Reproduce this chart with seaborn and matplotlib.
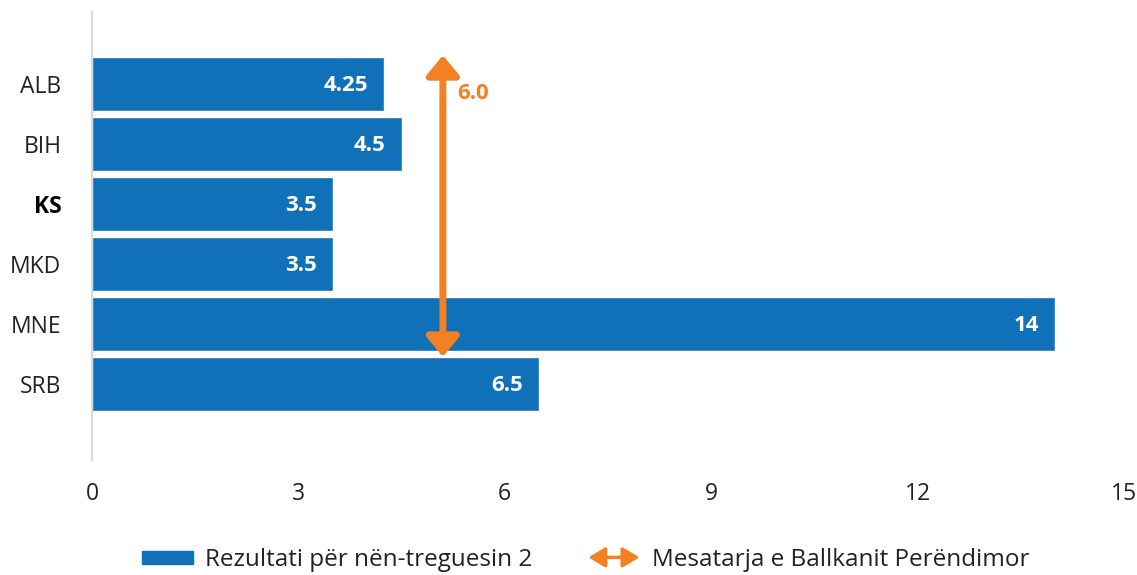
import matplotlib
matplotlib.use("Agg")
import matplotlib.pyplot as plt
import seaborn as sns
import pandas as pd
from matplotlib.patches import FancyArrowPatch
from matplotlib.legend_handler import HandlerPatch
from matplotlib.patches import Patch

categories = ["ALB", "BIH", "KS", "MKD", "MNE", "SRB"]
values = [4.25, 4.5, 3.5, 3.5, 14, 6.5]
value_labels = ["4.25", "4.5", "3.5", "3.5", "14", "6.5"]
x_ticks = [0, 3, 6, 9, 12, 15]
avg_label = "6.0"
avg_arrow_x = 5.1
series_name = "Rezultati për nën-treguesin 2"
avg_name = "Mesatarja e Ballkanit Perëndimor"

BLUE = "#1070B8"
ORANGE = "#F28123"

sns.set_theme(style="white")
plt.rcParams["font.family"] = ["Open Sans", "DejaVu Sans"]

df = pd.DataFrame({"cat": categories, "val": values})

fig = plt.figure(figsize=(11.37, 5.75), dpi=100)
ax = fig.add_axes([0.0809, 0.2, 0.9077, 0.779])

sns.barplot(data=df, x="val", y="cat", orient="h", color=BLUE, saturation=1,
            width=0.9, ax=ax)

ax.set_xlim(0, 15)
ax.set_ylim(6.27, -1.2)
ax.set_xticks(x_ticks)
ax.set_xticklabels([str(t) for t in x_ticks])
ax.set_xlabel("")
ax.set_ylabel("")
ax.tick_params(axis="x", labelsize=16.5, length=0, pad=16, colors="#222222")
ax.tick_params(axis="y", labelsize=16.5, length=0, pad=22, colors="#222222")
for lab in ax.get_yticklabels():
    if lab.get_text() == "KS":
        lab.set_fontweight("bold")
        lab.set_color("#000000")

for s in ["top", "right", "bottom"]:
    ax.spines[s].set_visible(False)
ax.spines["left"].set_color("#d9d9d9")
ax.spines["left"].set_linewidth(1.5)

for i, (v, lab) in enumerate(zip(values, value_labels)):
    ax.text(v - 0.23, i + 0.02, lab, ha="right", va="center", color="white",
            fontsize=16, fontweight="bold")

arrow = FancyArrowPatch((avg_arrow_x, -0.48), (avg_arrow_x, 4.55),
                        arrowstyle="<|-|>,head_length=0.85,head_width=0.7",
                        mutation_scale=14, color=ORANGE, lw=5,
                        shrinkA=0, shrinkB=0, zorder=5)
ax.add_patch(arrow)
ax.text(avg_arrow_x + 0.21, 0.15, avg_label, color=ORANGE, fontsize=16,
        fontweight="bold", ha="left", va="center")


class HandlerDoubleArrow(HandlerPatch):
    def create_artists(self, legend, orig_handle, xdescent, ydescent,
                       width, height, fontsize, trans):
        y = height / 2 - ydescent
        a = FancyArrowPatch((-xdescent, y), (width - xdescent, y),
                            arrowstyle="<|-|>,head_length=1.0,head_width=0.6",
                            mutation_scale=10, color=ORANGE, lw=2.5,
                            shrinkA=0, shrinkB=0)
        a.set_transform(trans)
        return [a]


bar_handle = Patch(facecolor=BLUE, edgecolor=BLUE)
arrow_handle = Patch(facecolor=ORANGE)
leg = fig.legend([bar_handle, arrow_handle], [series_name, avg_name],
                 loc="center", bbox_to_anchor=(0.515, 0.026), ncol=2,
                 frameon=False, fontsize=17.5, handlelength=2.1,
                 handleheight=0.42, columnspacing=2.3, handletextpad=0.5,
                 handler_map={arrow_handle: HandlerDoubleArrow()})
for t in leg.get_texts():
    t.set_color("#222222")

fig.savefig("out.png", dpi=100)
